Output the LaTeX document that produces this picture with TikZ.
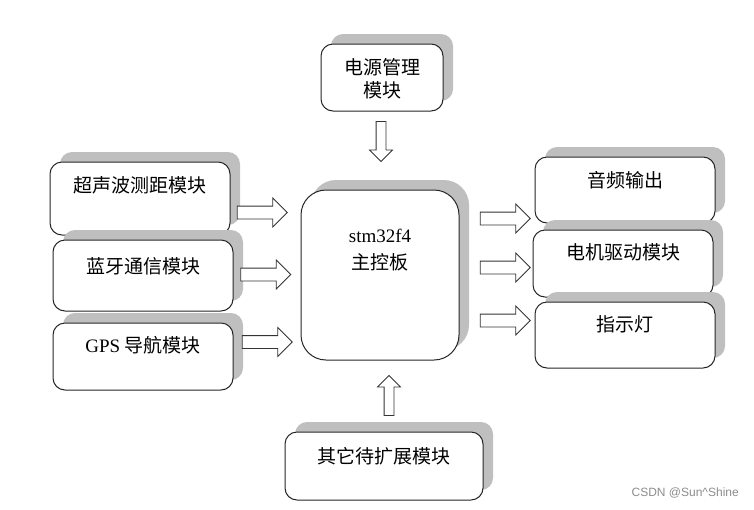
\documentclass[tikz,border=0pt]{standalone}
\usepackage{fontspec}
\setmainfont{Liberation Serif}
\setsansfont{Liberation Sans}
\newfontfamily\cjk{Noto Sans CJK SC}
\usetikzlibrary{shapes.arrows,shadows}

\begin{document}
\begin{tikzpicture}[x=1pt,y=-1pt,
box/.style={draw=black!85,line width=1pt,rounded corners=12pt,fill=white,
  drop shadow={shadow xshift=10pt,shadow yshift=10pt,fill=black!25,opacity=1}},
txt/.style={align=center,inner sep=0pt,font=\fontsize{19}{23}\selectfont\cjk},
fat/.style={single arrow,draw=black!80,fill=white,line width=0.8pt,inner xsep=0pt,inner ysep=6pt,
  minimum width=28pt,minimum height=50pt,single arrow head extend=8pt},
vfat/.style={fat,inner ysep=4.5pt,minimum width=22pt,minimum height=40pt,single arrow head extend=6.5pt}]
\useasboundingbox (0,0) rectangle (754,509);
% boxes
\node[box,minimum width=122pt,minimum height=67pt] (pwr) at (382,77.5) {};
\node[box,minimum width=180pt,minimum height=73pt] (ultra) at (140,198.5) {};
\node[box,minimum width=180pt,minimum height=71pt] (bt) at (143,275.5) {};
\node[box,minimum width=180pt,minimum height=67pt] (gps) at (143,356.5) {};
\node[box,rounded corners=25pt,minimum width=158pt,minimum height=170pt] (mcu) at (380,275) {};
\node[box,minimum width=180pt,minimum height=66pt] (audio) at (625,190) {};
\node[box,minimum width=180pt,minimum height=67pt] (motor) at (623,263.5) {};
\node[box,minimum width=180pt,minimum height=66pt] (led) at (625,335) {};
\node[box,minimum width=198pt,minimum height=68pt] (ext) at (384,466) {};
% texts
\node[txt] (pwr-t) at (382,78.5) {电源管理\\模块};
\node[txt] (ultra-t) at ([yshift=-24pt]ultra.north) {超声波测距模块};
\node[txt] (bt-t) at ([yshift=-27pt]bt.north) {蓝牙通信模块};
\node[txt] (gps-t) at ([yshift=-23pt]gps.north) {{\rmfamily GPS} 导航模块};
\node[txt,font=\fontsize{19}{27}\selectfont\cjk] (mcu-t) at (380,250.5) {{\rmfamily stm32f4}\\主控板};
\node[txt] (audio-t) at ([yshift=-24pt]audio.north) {音频输出};
\node[txt] (motor-t) at ([yshift=-23pt]motor.north) {电机驱动模块};
\node[txt] (led-t) at ([yshift=-23pt]led.north) {指示灯};
\node[txt] (ext-t) at ([yshift=-25pt]ext.north) {其它待扩展模块};
% arrows
\node[fat] (a1) at (259,212.5) {};
\node[fat] (a2) at (262.5,274.5) {};
\node[fat] (a3) at (264,342) {};
\node[fat] (a4) at (502,218.5) {};
\node[fat] (a5) at (502,267.5) {};
\node[fat] (a6) at (502,320.5) {};
\node[vfat,rotate=-90] (a7) at (381,139) {};
\node[vfat,rotate=90] (a8) at (389,398) {};
\node[anchor=east,inner sep=0pt,font=\sffamily\fontsize{12}{14}\selectfont,text=black!45] (mark) at (739,493) {CSDN @Sun\textasciicircum Shine};
\end{tikzpicture}
\end{document}
